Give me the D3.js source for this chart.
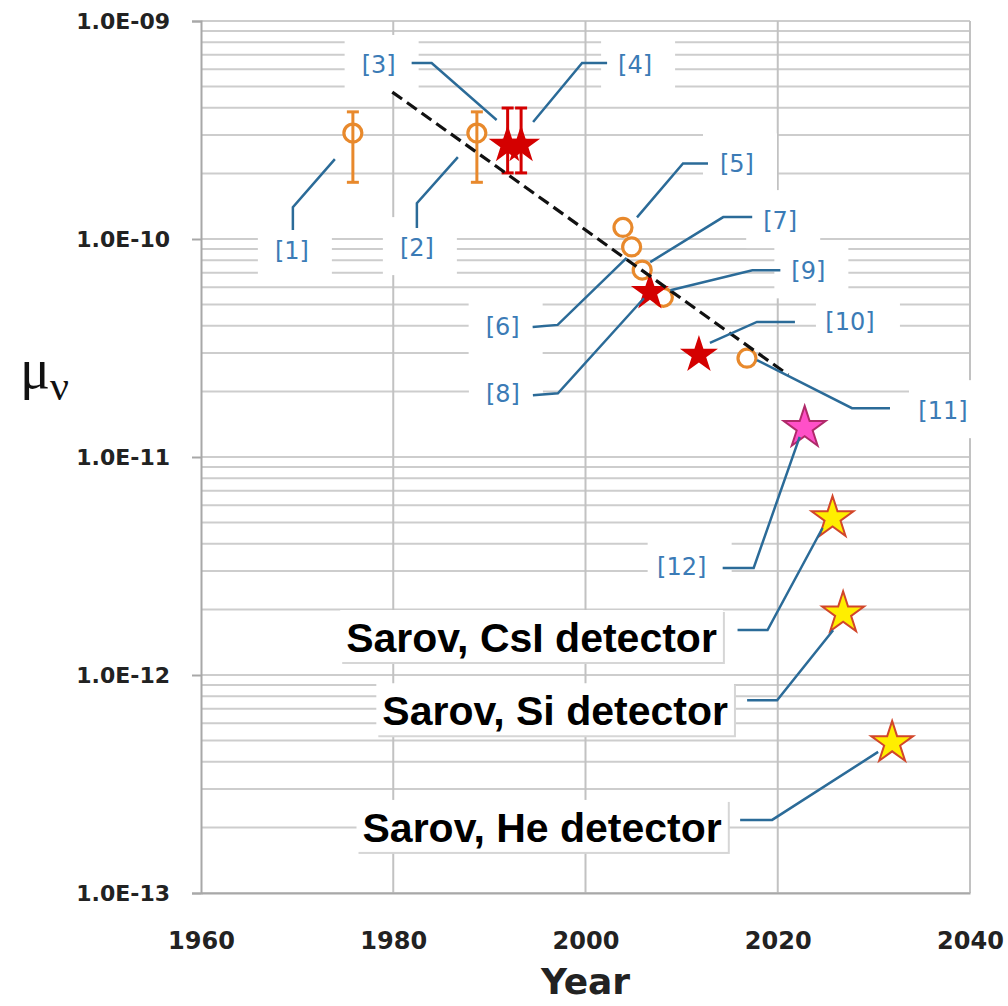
<!DOCTYPE html>
<html>
<head>
<meta charset="utf-8">
<script src="https://cdn.jsdelivr.net/npm/d3@7"></script>
<style>
  body { margin: 0; background: #fff; }
</style>
</head>
<body>
<div id="chart"></div>
<script>
// neutrino magnetic moment limits vs year
const refs = ["[1]", "[2]", "[3]", "[4]", "[5]", "[6]", "[7]", "[8]", "[9]", "[10]", "[11]", "[12]",
  "Sarov, CsI detector", "Sarov, Si detector", "Sarov, He detector"]
const years = [1975.8, 1988.7, 1991.9, 1993.3, 2003.9, 2004.8, 2005.9, 2006.7, 2008.1, 2011.8, 2016.8, 2022.8, 2025.7, 2026.8, 2031.9]
const mu = [3.06e-10, 3.06e-10, 2.7e-10, 2.7e-10, 1.13e-10, 9.2e-11, 7.2e-11, 5.7e-11, 5.4e-11, 2.94e-11, 2.84e-11, 1.36e-11, 5.25e-12, 1.92e-12, 4.88e-13]
const muLow = [1.82e-10, 1.82e-10, 2.01e-10, 2.01e-10, null, null, null, null, null, null, null, null, null, null, null]
const muHigh = [3.83e-10, 3.83e-10, 3.99e-10, 3.99e-10, null, null, null, null, null, null, null, null, null, null, null]
const kinds = ["circle", "circle", "red", "red", "circle", "circle", "circle", "red", "circle", "red", "circle", "pink", "yellow", "yellow", "yellow"]

const trendYears = [1979.9, 2021.1]
const trendMu = [4.72e-10, 2.38e-11]

const xTicks = [1960, 1980, 2000, 2020, 2040]
const yTicks = [1e-9, 1e-10, 1e-11, 1e-12, 1e-13]

// label placement, pixel offsets from the marker
const notes = [
  { text: [-61, 117], path: [[-60, 97], [-60, 74], [-18, 26]] },
  { text: [-60, 114], path: [[-60, 95], [-60, 70], [-19, 24]] },
  { text: [-129, -80], path: [[-96, -82], [-76, -82], [-11, -25]] },
  { text: [114, -80], path: [[86, -82], [61, -82], [12, -23]] },
  { text: [114, -64], path: [[85, -64], [60, -64], [14, -10]] },
  { text: [-129, 80], path: [[-99, 80], [-74, 78], [-5, 11]] },
  { text: [138, -50], path: [[110, -53], [81, -53], [8, -8]] },
  { text: [-147, 101], path: [[-117, 103], [-92, 101], [-6, 6]] },
  { text: [145, -27], path: [[117, -27], [89, -27], [7, -7]] },
  { text: [151, -33], path: [[96, -33], [58, -33], [11, -12]] },
  { text: [196, 52], path: [[143, 50], [105, 50], [10, 2]] },
  { text: [-123, 139], path: [[-82, 140], [-51, 140], [-5, 9]] },
  { text: [-301, 134], path: [[-95, 112], [-65, 112], [-10, 10]] },
  { text: [-288, 112], path: [[-96, 87], [-66, 87], [-10, 17]] },
  { text: [-350, 99], path: [[-152, 77], [-120, 77], [-14, 9]] }
]

const width = 1008, height = 1006
const x = d3.scaleLinear().domain([1960, 2040]).range([201, 970])
const y = d3.scaleLog().domain([1e-13, 1e-9]).range([893, 21])

const orange = "#e8892c", red = "#d40000", blue = "#3b7bb6", leader = "#2b6b98"
const starStyle = {
  red: { r: 20, fill: red, stroke: "none" },
  pink: { r: 22, fill: "#ff50c8", stroke: "#b02a6a" },
  yellow: { r: 22, fill: "#ffee00", stroke: "#d2462a" }
}

const svg = d3.select("#chart").append("svg")
  .attr("width", width)
  .attr("height", height)

const points = years.map((yr, i) => ({
  year: yr, mu: mu[i], lo: muLow[i], hi: muHigh[i], kind: kinds[i], ref: refs[i], note: notes[i],
  px: x(yr), py: y(mu[i])
}))

// grid lines
const minor = []
d3.range(-13, -9).forEach(e => d3.range(1, 10).forEach(k => minor.push(k * Math.pow(10, e))))
minor.push(1e-9)

svg.append("g")
  .selectAll("line")
  .data(minor)
  .join("line")
  .attr("x1", x(1960)).attr("x2", x(2040))
  .attr("y1", d => y(d)).attr("y2", d => y(d))
  .attr("stroke", "#cdcdcd")
  .attr("stroke-width", 2)

svg.append("g")
  .selectAll("line")
  .data(xTicks.slice(1))
  .join("line")
  .attr("x1", d => x(d)).attr("x2", d => x(d))
  .attr("y1", y(1e-9)).attr("y2", y(1e-13))
  .attr("stroke", "#c2c2c2")
  .attr("stroke-width", 2)

// white boxes behind the reference labels
const bracketPts = points.filter(d => d.ref.startsWith("["))
svg.append("g")
  .selectAll("rect")
  .data(bracketPts)
  .join("rect")
  .attr("x", d => d.px + d.note.text[0] - 34)
  .attr("y", d => d.py + d.note.text[1] - 30)
  .attr("width", d => d.ref.length > 3 ? 84 : 74)
  .attr("height", 58)
  .attr("fill", "#fff")

// axes
const yAxis = svg.append("g")
  .attr("transform", `translate(${x(1960)},0)`)
  .call(d3.axisLeft(y).tickValues(yTicks)
    .tickFormat(d => "1.0E-" + String(-Math.round(Math.log10(d))).padStart(2, "0"))
    .tickSize(9).tickPadding(22))
yAxis.select(".domain").attr("stroke", "#a8a8a8").attr("stroke-width", 2)
yAxis.selectAll(".tick line").attr("stroke", "#a8a8a8").attr("stroke-width", 2)
yAxis.selectAll(".tick text")
  .attr("font-family", "DejaVu Sans")
  .attr("font-weight", "bold")
  .attr("font-size", 22)
  .attr("fill", "#222")

const xAxis = svg.append("g")
  .attr("transform", `translate(0,${y(1e-13)})`)
  .call(d3.axisBottom(x).tickValues(xTicks).tickFormat(d3.format("d")).tickSize(0).tickPadding(39))
xAxis.select(".domain").attr("stroke", "#a8a8a8").attr("stroke-width", 2)
xAxis.selectAll(".tick text")
  .attr("font-family", "DejaVu Sans")
  .attr("font-weight", "bold")
  .attr("font-size", 24)
  .attr("fill", "#222")

svg.append("text")
  .attr("x", x(2000))
  .attr("y", 994)
  .attr("text-anchor", "middle")
  .attr("font-family", "DejaVu Sans")
  .attr("font-weight", "bold")
  .attr("font-size", 36)
  .attr("fill", "#222")
  .text("Year")

const yLabel = svg.append("text")
  .attr("x", 20)
  .attr("y", 388)
  .attr("font-family", "Liberation Serif")
  .attr("font-size", 56)
  .attr("fill", "#111")
  .text("μ")
yLabel.append("tspan")
  .attr("font-size", 42)
  .attr("dy", 12)
  .text("ν")

// circles
svg.append("g")
  .selectAll("circle")
  .data(points.filter(d => d.kind === "circle"))
  .join("circle")
  .attr("cx", d => d.px)
  .attr("cy", d => d.py)
  .attr("r", 9)
  .attr("fill", "#fff")
  .attr("stroke", orange)
  .attr("stroke-width", 3.2)

// error bars
const errPts = points.filter(d => d.lo !== null)
const errG = svg.append("g")
  .selectAll("g")
  .data(errPts)
  .join("g")
  .attr("stroke", d => d.kind === "circle" ? orange : red)
  .attr("stroke-width", 3)
errG.append("line")
  .attr("x1", d => d.px).attr("x2", d => d.px)
  .attr("y1", d => y(d.hi)).attr("y2", d => y(d.lo))
errG.append("line")
  .attr("x1", d => d.px - 6).attr("x2", d => d.px + 6)
  .attr("y1", d => y(d.hi)).attr("y2", d => y(d.hi))
errG.append("line")
  .attr("x1", d => d.px - 6).attr("x2", d => d.px + 6)
  .attr("y1", d => y(d.lo)).attr("y2", d => y(d.lo))

// stars
svg.append("g")
  .selectAll("path")
  .data(points.filter(d => d.kind !== "circle"))
  .join("path")
  .attr("transform", d => `translate(${d.px},${d.py})`)
  .attr("d", d => d3.symbol().type(d3.symbolStar).size(starStyle[d.kind].r ** 2 / 0.8908)())
  .attr("fill", d => starStyle[d.kind].fill)
  .attr("stroke", d => starStyle[d.kind].stroke)
  .attr("stroke-width", 2)

// trend line
svg.append("path")
  .datum(trendYears.map((yr, i) => [x(yr), y(trendMu[i])]))
  .attr("d", d3.line())
  .attr("fill", "none")
  .attr("stroke", "#111")
  .attr("stroke-width", 3.2)
  .attr("stroke-dasharray", "12,6")

// leader lines
svg.append("g")
  .selectAll("path")
  .data(points)
  .join("path")
  .attr("d", d => d3.line()(d.note.path.map(p => [d.px + p[0], d.py + p[1]])))
  .attr("fill", "none")
  .attr("stroke", leader)
  .attr("stroke-width", 2.5)

svg.append("g")
  .selectAll("text")
  .data(bracketPts)
  .join("text")
  .attr("x", d => d.px + d.note.text[0])
  .attr("y", d => d.py + d.note.text[1])
  .attr("dy", "0.35em")
  .attr("text-anchor", "middle")
  .attr("font-family", "DejaVu Sans")
  .attr("font-size", 24)
  .attr("fill", blue)
  .text(d => d.ref)

// Sarov boxes
const sarov = svg.append("g")
  .selectAll("g")
  .data(points.filter(d => !d.ref.startsWith("[")))
  .join("g")
sarov.append("rect").attr("class", "shadow").attr("fill", "#d6d6d6")
sarov.append("rect").attr("class", "box").attr("fill", "#fff")
sarov.append("text")
  .attr("x", d => d.px + d.note.text[0])
  .attr("y", d => d.py + d.note.text[1])
  .attr("text-anchor", "middle")
  .attr("font-family", "Liberation Sans")
  .attr("font-weight", "bold")
  .attr("font-size", 41)
  .attr("fill", "#000")
  .text(d => d.ref)
sarov.each(function () {
  const g = d3.select(this)
  const b = g.select("text").node().getBBox()
  const baseY = +g.select("text").attr("y")
  g.select(".box")
    .attr("x", b.x - 6).attr("y", baseY - 42)
    .attr("width", b.width + 12).attr("height", 52)
  g.select(".shadow")
    .attr("x", b.x - 4).attr("y", baseY - 40)
    .attr("width", b.width + 12).attr("height", 52)
})
</script>
</body>
</html>
